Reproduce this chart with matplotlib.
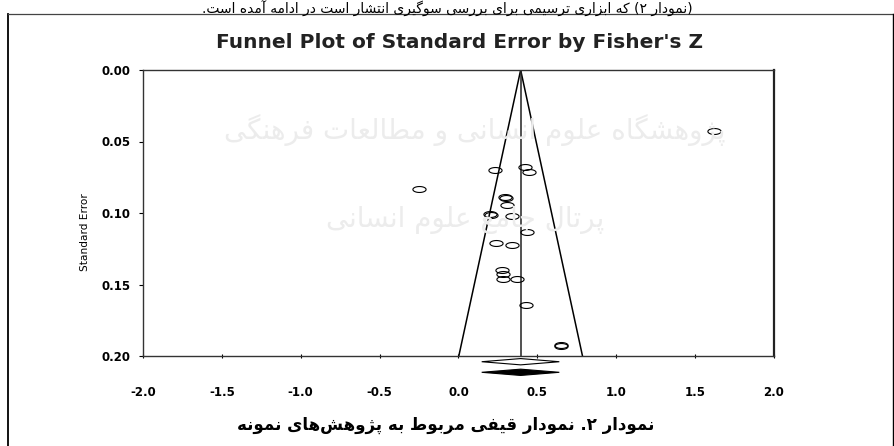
import numpy as np
import matplotlib.pyplot as plt
from matplotlib.path import Path
from matplotlib.lines import Line2D

# داده‌ها: Fisher's Z و خطای استاندارد هر پژوهش
fisher_z = [-0.25, 1.62, 0.231, 0.422, 0.449, 0.295, 0.300, 0.306, 0.200, 0.205,
            0.337, 0.432, 0.236, 0.337, 0.274, 0.280, 0.284, 0.369, 0.428, 0.648, 0.651]
std_err = [0.0832, 0.0427, 0.0701, 0.0681, 0.0711, 0.0890, 0.0893, 0.0944, 0.1007, 0.1011,
           0.1019, 0.1131, 0.1212, 0.1221, 0.1399, 0.1429, 0.1462, 0.1459, 0.1646, 0.1925, 0.1928]

summary_z = 0.394          # برآورد ترکیبی
summary_ci = [0.147, 0.639]  # فاصله اطمینان ۹۵٪
se_max = 0.20

x_ticks = [-2.0, -1.5, -1.0, -0.5, 0.0, 0.5, 1.0, 1.5, 2.0]
y_ticks = [0.00, 0.05, 0.10, 0.15, 0.20]

title = "Funnel Plot of Standard Error by Fisher's Z"
y_label = 'Standard Error'
caption = 'نمودار ۲. نمودار قیفی مربوط به پژوهش\u200cهای نمونه'
top_line = '(نمودار ۲) که ابزاری ترسیمی برای بررسی سوگیری انتشار است در ادامه آمده است.'
watermark1 = 'پژوهشگاه علوم انسانی و مطالعات فرهنگی'
watermark2 = 'پرتال جامع علوم انسانی'

# شکل‌های حروف فارسی (جدا، پایانی، آغازی، میانی)
FORMS = {
    'ا': (0xFE8D, 0xFE8E), 'آ': (0xFE81, 0xFE82), 'د': (0xFEA9, 0xFEAA),
    'ذ': (0xFEAB, 0xFEAC), 'ر': (0xFEAD, 0xFEAE), 'ز': (0xFEAF, 0xFEB0),
    'ژ': (0xFB8A, 0xFB8B), 'و': (0xFEED, 0xFEEE),
    'ب': (0xFE8F, 0xFE90, 0xFE91, 0xFE92), 'پ': (0xFB56, 0xFB57, 0xFB58, 0xFB59),
    'ت': (0xFE95, 0xFE96, 0xFE97, 0xFE98), 'ث': (0xFE99, 0xFE9A, 0xFE9B, 0xFE9C),
    'ج': (0xFE9D, 0xFE9E, 0xFE9F, 0xFEA0), 'چ': (0xFB7A, 0xFB7B, 0xFB7C, 0xFB7D),
    'ح': (0xFEA1, 0xFEA2, 0xFEA3, 0xFEA4), 'خ': (0xFEA5, 0xFEA6, 0xFEA7, 0xFEA8),
    'س': (0xFEB1, 0xFEB2, 0xFEB3, 0xFEB4), 'ش': (0xFEB5, 0xFEB6, 0xFEB7, 0xFEB8),
    'ص': (0xFEB9, 0xFEBA, 0xFEBB, 0xFEBC), 'ض': (0xFEBD, 0xFEBE, 0xFEBF, 0xFEC0),
    'ط': (0xFEC1, 0xFEC2, 0xFEC3, 0xFEC4), 'ظ': (0xFEC5, 0xFEC6, 0xFEC7, 0xFEC8),
    'ع': (0xFEC9, 0xFECA, 0xFECB, 0xFECC), 'غ': (0xFECD, 0xFECE, 0xFECF, 0xFED0),
    'ف': (0xFED1, 0xFED2, 0xFED3, 0xFED4), 'ق': (0xFED5, 0xFED6, 0xFED7, 0xFED8),
    'ک': (0xFB8E, 0xFB8F, 0xFB90, 0xFB91), 'گ': (0xFB92, 0xFB93, 0xFB94, 0xFB95),
    'ل': (0xFEDD, 0xFEDE, 0xFEDF, 0xFEE0), 'م': (0xFEE1, 0xFEE2, 0xFEE3, 0xFEE4),
    'ن': (0xFEE5, 0xFEE6, 0xFEE7, 0xFEE8), 'ه': (0xFEE9, 0xFEEA, 0xFEEB, 0xFEEC),
    'ی': (0xFBFC, 0xFBFD, 0xFBFE, 0xFBFF), 'ئ': (0xFE89, 0xFE8A, 0xFE8B, 0xFE8C),
}
LAM_ALEF = {'ا': (0xFEFB, 0xFEFC), 'آ': (0xFEF5, 0xFEF6)}


def fa(text):
    # اتصال حروف و راست‌به‌چپ کردن متن برای matplotlib
    res = []
    i = 0
    n = len(text)
    while i < n:
        c = text[i]
        if c not in FORMS:
            res.append(c)
            i += 1
            continue
        prev = text[i - 1] if i > 0 else ''
        join_prev = prev in FORMS and len(FORMS[prev]) == 4
        if c == 'ل' and i + 1 < n and text[i + 1] in LAM_ALEF:
            res.append(chr(LAM_ALEF[text[i + 1]][1 if join_prev else 0]))
            i += 2
            continue
        forms = FORMS[c]
        nxt = text[i + 1] if i + 1 < n else ''
        join_next = len(forms) == 4 and nxt in FORMS
        if join_prev and join_next:
            res.append(chr(forms[3]))
        elif join_prev:
            res.append(chr(forms[1]))
        elif join_next:
            res.append(chr(forms[2]))
        else:
            res.append(chr(forms[0]))
        i += 1
    s = ''.join(res).replace('\u200c', '')[::-1]
    return s.translate(str.maketrans('()', ')('))


fig = plt.figure(figsize=(8.95, 4.46), dpi=100)
W, H = 895, 446
ax = fig.add_axes([143 / W, 1 - 356 / H, (774 - 143) / W, (356 - 70) / H])

# واترمارک کم‌رنگ
fig.text(475 / W, 1 - 130 / H, fa(watermark1), fontsize=20, color='#ececec',
         ha='center', va='center', family='DejaVu Sans', zorder=0)
fig.text(465 / W, 1 - 220 / H, fa(watermark2), fontsize=20, color='#ececec',
         ha='center', va='center', family='DejaVu Sans', zorder=0)
ax.patch.set_alpha(0)

# نمودار قیفی
se_line = np.array([0, se_max])
ax.plot(summary_z - 1.96 * se_line, se_line, color='black', lw=1.1)
ax.plot(summary_z + 1.96 * se_line, se_line, color='black', lw=1.1)
ax.plot([summary_z, summary_z], se_line, color='#222222', lw=1.1)

# نشانگر بیضی شکل
t = np.linspace(0, 2 * np.pi, 60)
ellipse = Path(np.column_stack([np.cos(t), 0.45 * np.sin(t)]))
ax.plot(fisher_z, std_err, ls='none', marker=ellipse, markersize=9.5,
        markerfacecolor='none', markeredgecolor='black', markeredgewidth=0.8, clip_on=False)

# الماس‌های برآورد ترکیبی زیر محور
dh = 0.0022
for yc, fc in [(0.2040, 'white'), (0.2114, 'black')]:
    dx = [summary_ci[0], summary_z, summary_ci[1], summary_z]
    dy = [yc, yc - dh, yc, yc + dh]
    ax.fill(dx, dy, facecolor=fc, edgecolor='black', lw=0.8, clip_on=False)

ax.set_xlim(-2, 2)
ax.set_ylim(0.2, 0)
ax.set_xticks(x_ticks)
ax.set_xticklabels([f'{v:.1f}' for v in x_ticks])
ax.set_yticks(y_ticks)
ax.set_yticklabels([f'{v:.2f}' for v in y_ticks])
ax.tick_params(axis='x', direction='inout', length=3, width=0.8, pad=20)
ax.tick_params(axis='y', direction='out', length=3, width=0.8, pad=6)
for lab in ax.get_xticklabels() + ax.get_yticklabels():
    lab.set_fontsize(8.5)
    lab.set_fontweight('bold')
    lab.set_family('DejaVu Sans')
for side in ['left', 'top', 'bottom']:
    ax.spines[side].set_color('#333333')
    ax.spines[side].set_linewidth(1.0)
ax.spines['right'].set_color('#222222')
ax.spines['right'].set_linewidth(1.6)

fig.text(85 / W, 1 - 232 / H, y_label, rotation=90, fontsize=7.6,
         family=['Liberation Sans Narrow', 'DejaVu Sans'], ha='center', va='center')
fig.text(460 / W, 1 - 43 / H, title, fontsize=14.5, fontweight='bold',
         family='DejaVu Sans', color='#222222', ha='center', va='center')

# متن‌های فارسی بالا و پایین
fig.text(446 / W, 1 - 425 / H, fa(caption), fontsize=12, fontweight='bold',
         family='DejaVu Sans', ha='center', va='center')
fig.text(447 / W, 1 - 1 / H, fa(top_line), fontsize=10,
         family='DejaVu Sans', ha='center', va='top')

# قاب دور تصویر
fig.add_artist(Line2D([8 / W, 8 / W], [0, 1 - 14 / H], transform=fig.transFigure, color='black', lw=1.3))
fig.add_artist(Line2D([8 / W, 893 / W], [1 - 14 / H, 1 - 14 / H], transform=fig.transFigure, color='#444444', lw=0.9))
fig.add_artist(Line2D([893 / W, 893 / W], [0, 1 - 14 / H], transform=fig.transFigure, color='black', lw=1.0))

fig.savefig('out.png', dpi=100)
